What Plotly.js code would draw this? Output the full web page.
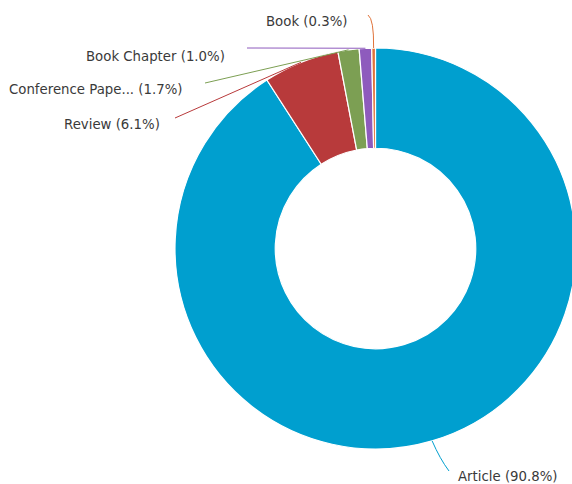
<!DOCTYPE html>
<html><head><meta charset="utf-8">
<script src="https://cdn.plot.ly/plotly-3.0.1.min.js"></script>
<style>html,body{margin:0;padding:0;overflow:hidden;background:#fff}</style>
</head><body>
<div id="chart"></div>
<script>
const categories = ["Article", "Review", "Conference Pape...", "Book Chapter", "Book"];
const percents = [90.8, 6.1, 1.7, 1.0, 0.3];
const colors = ["#009fcf", "#b83a3b", "#7c9f53", "#8e5bbd", "#e0733a"];

const W = 580, H = 484;
const cx = 375.5, cy = 248.5, R = 200.5;

// label layout (pixel offsets: elbow/end points and text anchor)
const labelLayout = [
  {mid: [440, 459], end: [449, 471], tx: 456, ty: 476, anchor: "left"},
  {mid: null, end: [175, 118], tx: 162, ty: 124, anchor: "right"},
  {mid: null, end: [205, 83], tx: 184, ty: 90, anchor: "right"},
  {mid: null, end: [247, 48], tx: 227, ty: 56, anchor: "right"},
  {mid: [374, 19], end: [368, 15], tx: 349, ty: 22, anchor: "right"}
];

const total = percents.reduce((a, b) => a + b, 0);
const px = x => x / W, py = y => 1 - y / H;

const shapes = [], annotations = [];
let cum = 0;
percents.forEach((v, i) => {
  const midFrac = (cum + v / 2) / total;
  cum += v;
  const ang = midFrac * 2 * Math.PI;
  const sx = cx + R * Math.sin(ang), sy = cy - R * Math.cos(ang);
  const L = labelLayout[i];
  let path;
  if (L.mid) {
    path = `M ${px(sx)} ${py(sy)} Q ${px(L.mid[0])} ${py(L.mid[1])} ${px(L.end[0])} ${py(L.end[1])}`;
  } else {
    path = `M ${px(sx)} ${py(sy)} L ${px(L.end[0])} ${py(L.end[1])}`;
  }
  shapes.push({type: "path", xref: "paper", yref: "paper", path: path,
    line: {color: colors[i], width: 1}, layer: "above"});
  annotations.push({xref: "paper", yref: "paper", x: px(L.tx), y: py(L.ty),
    xanchor: L.anchor, yanchor: "middle", showarrow: false,
    text: `${categories[i]} (${v.toFixed(1)}%)`,
    font: {family: "DejaVu Sans", size: 13.3, color: "#3a3a3a"}});
});

const trace = {
  type: "pie",
  labels: categories,
  values: percents,
  sort: false,
  direction: "clockwise",
  rotation: 0,
  hole: 0.5,
  textinfo: "none",
  hoverinfo: "label+percent",
  marker: {colors: colors, line: {color: "#ffffff", width: 1.2}},
  domain: {x: [(cx - R) / W, (cx + R) / W], y: [1 - (cy + R) / H, 1 - (cy - R) / H]}
};

Plotly.newPlot("chart", [trace], {
  width: W, height: H,
  margin: {l: 0, r: 0, t: 0, b: 0},
  showlegend: false,
  paper_bgcolor: "#fff",
  shapes: shapes,
  annotations: annotations
}, {displayModeBar: false, staticPlot: true});
</script>
</body></html>
